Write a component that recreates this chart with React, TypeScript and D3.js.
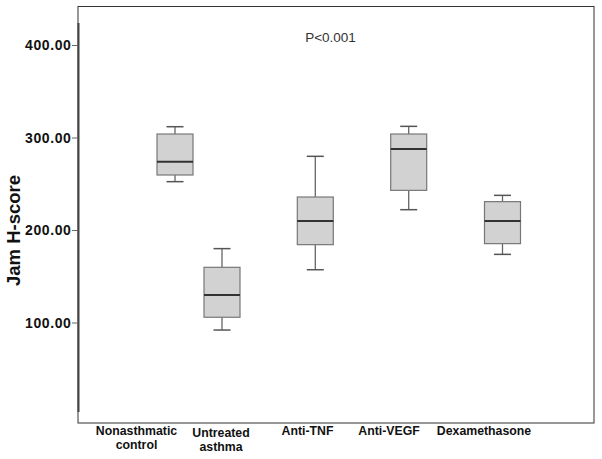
import React from "react";
import * as d3 from "d3";

const categories = ["Nonasthmatic control", "Untreated asthma", "Anti-TNF", "Anti-VEGF", "Dexamethasone"];
const labelLines = [["Nonasthmatic", "control"], ["Untreated", "asthma"], ["Anti-TNF"], ["Anti-VEGF"], ["Dexamethasone"]];
const whiskerLow = [252.8, 92.4, 157.6, 222.5, 174.2];
const q1 = [260, 106.2, 184.7, 243.4, 185.8];
const medians = [274.4, 130.3, 210.3, 288.1, 210.3];
const q3 = [304.3, 160.2, 236.2, 304.3, 231.2];
const whiskerHigh = [312.2, 180.4, 280.2, 312.6, 238];
const yTicks = [100, 200, 300, 400];
const yTitle = "Jam H-score";
const annotation = "P<0.001";

export default function App() {
  const W = 602, H = 459;
  const y = d3.scaleLinear().domain([100, 400]).range([323, 45.5]);
  const xBox = d3.scaleOrdinal<string, number>().domain(categories).range([175, 222, 315.3, 408.7, 502.5]);
  const xLab = d3.scaleOrdinal<string, number>().domain(categories).range([136.5, 221, 307.5, 389, 484]);
  const boxW = 36;
  const capW = 17;
  const font = "'Liberation Sans', Arial, Helvetica, sans-serif";
  return (
    <svg width={W} height={H} style={{ position: "absolute", left: 0, top: 0, background: "#fff" }}>
      {/* frame */}
      <rect x={78} y={6.5} width={516} height={416.5} fill="none" stroke="#333" strokeWidth={1} />
      {/* y axis line */}
      <line x1={78.5} x2={78.5} y1={23} y2={412} stroke="#444" strokeWidth={2} />
      {yTicks.map((t) => (
        <g key={t}>
          <line x1={72} x2={78} y1={y(t)} y2={y(t)} stroke="#666" strokeWidth={1} />
          <text x={71.5} y={y(t)} dy="0.35em" textAnchor="end" fontFamily={font} fontWeight="bold" fontSize={14} letterSpacing={0.6} fill="#111">
            {d3.format(".2f")(t)}
          </text>
        </g>
      ))}
      <text transform={`translate(20,230.5) rotate(-90)`} textAnchor="middle" fontFamily={font} fontWeight="bold" fontSize={18.5} fill="#111">
        {yTitle}
      </text>
      <text x={330.5} y={41.7} textAnchor="middle" fontFamily={font} fontSize={13.5} fill="#333">
        {annotation}
      </text>
      {categories.map((c, i) => {
        const cx = xBox(c);
        return (
          <g key={c}>
            <line x1={cx} x2={cx} y1={y(whiskerHigh[i])} y2={y(q3[i])} stroke="#666" strokeWidth={1.3} />
            <line x1={cx} x2={cx} y1={y(q1[i])} y2={y(whiskerLow[i])} stroke="#666" strokeWidth={1.3} />
            <line x1={cx - capW / 2} x2={cx + capW / 2} y1={y(whiskerHigh[i])} y2={y(whiskerHigh[i])} stroke="#555" strokeWidth={1.5} />
            <line x1={cx - capW / 2} x2={cx + capW / 2} y1={y(whiskerLow[i])} y2={y(whiskerLow[i])} stroke="#555" strokeWidth={1.5} />
            <rect x={cx - boxW / 2} y={y(q3[i])} width={boxW} height={y(q1[i]) - y(q3[i])} fill="#d2d2d2" stroke="#777" strokeWidth={1.2} />
            <line x1={cx - boxW / 2} x2={cx + boxW / 2} y1={y(medians[i])} y2={y(medians[i])} stroke="#333" strokeWidth={2} />
          </g>
        );
      })}
      {categories.map((c, i) =>
        labelLines[i].map((l, j) => (
          <text key={c + j} x={xLab(c)} y={(i === 0 ? 435 : i === 1 ? 437 : 435) + j * 14} textAnchor="middle" fontFamily={font} fontWeight="bold" fontSize={12.3} fill="#111">
            {l}
          </text>
        ))
      )}
    </svg>
  );
}
